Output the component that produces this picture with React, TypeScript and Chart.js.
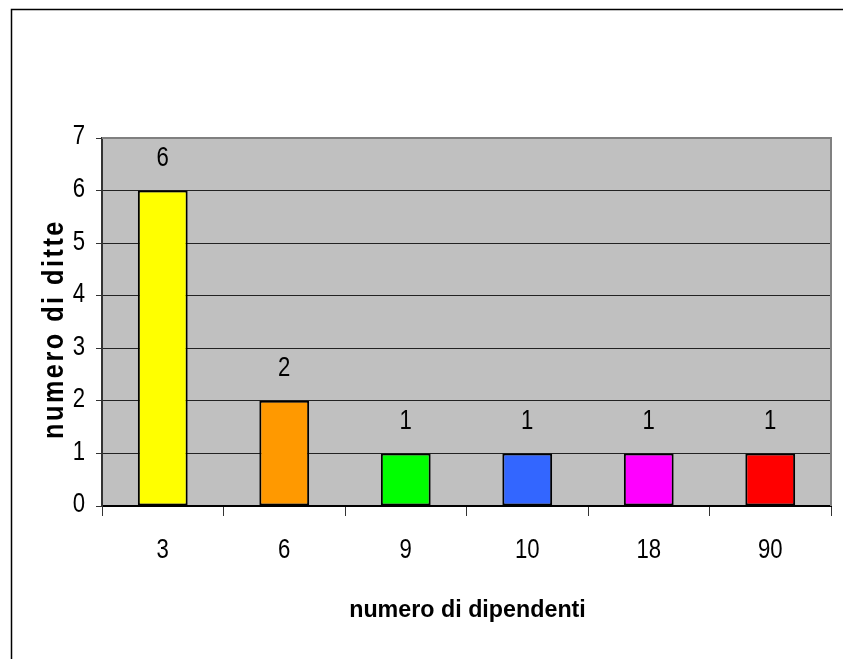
import React, { useEffect, useRef } from "react";
import { Chart, registerables } from "chart.js";

Chart.register(...registerables);

const categories = ["3", "6", "9", "10", "18", "90"];
const values = [6, 2, 1, 1, 1, 1];
const barColors = ["#FFFF00", "#FF9900", "#00FF00", "#3366FF", "#FF00FF", "#FF0000"];
const yTicks = [0, 1, 2, 3, 4, 5, 6, 7];
const xTitle = "numero di dipendenti";
const yTitle = "numero di ditte";

const W = 843;
const H = 659;
const SANS = '"Liberation Sans", Arial, sans-serif';
const NARROW_SCALE = 0.82;

function narrowText(ctx: CanvasRenderingContext2D, text: string, x: number, y: number, align: CanvasTextAlign, sx: number) {
  ctx.save();
  ctx.translate(x, y);
  ctx.scale(sx, 1);
  ctx.textAlign = align;
  ctx.fillText(text, 0, 0);
  ctx.restore();
}

export default function App() {
  const ref = useRef<HTMLCanvasElement | null>(null);

  useEffect(() => {
    const canvas = ref.current;
    if (!canvas) return;

    const decor = {
      id: "decor",
      beforeDraw(chart: any) {
        const { ctx, chartArea: a } = chart;
        ctx.save();
        ctx.fillStyle = "#FFFFFF";
        ctx.fillRect(0, 0, W, H);
        ctx.fillStyle = "#C0C0C0";
        ctx.fillRect(a.left, a.top, a.right - a.left, a.bottom - a.top);
        ctx.restore();
      },
      beforeDatasetsDraw(chart: any) {
        const { ctx, chartArea: a } = chart;
        ctx.save();
        ctx.strokeStyle = "#808080";
        ctx.lineWidth = 2;
        ctx.beginPath();
        ctx.moveTo(a.left, a.top);
        ctx.lineTo(a.right, a.top);
        ctx.lineTo(a.right, a.bottom);
        ctx.stroke();
        ctx.restore();
      },
      afterDatasetsDraw(chart: any) {
        const { ctx } = chart;
        const meta = chart.getDatasetMeta(0);
        ctx.save();
        ctx.fillStyle = "#000";
        ctx.font = `27px ${SANS}`;
        ctx.textBaseline = "middle";
        meta.data.forEach((bar: any, i: number) => {
          narrowText(ctx, String(values[i]), bar.x, bar.y - 32, "center", NARROW_SCALE);
        });
        ctx.restore();
      },
      afterDraw(chart: any) {
        const { ctx, chartArea: a } = chart;
        const xs = chart.scales.x;
        const ys = chart.scales.y;
        ctx.save();
        // outer frame
        ctx.strokeStyle = "#000";
        ctx.lineWidth = 1.5;
        ctx.beginPath();
        ctx.moveTo(11.5, H);
        ctx.lineTo(11.5, 9.5);
        ctx.lineTo(W, 9.5);
        ctx.stroke();

        // tick labels
        ctx.fillStyle = "#000";
        ctx.font = `27px ${SANS}`;
        ctx.textBaseline = "middle";
        yTicks.forEach((v) => {
          narrowText(ctx, String(v), 85, ys.getPixelForValue(v) - 1, "right", NARROW_SCALE);
        });
        categories.forEach((c, i) => {
          narrowText(ctx, c, xs.getPixelForValue(i), 551, "center", NARROW_SCALE);
        });

        // x title
        ctx.font = `bold 24px ${SANS}`;
        ctx.textBaseline = "alphabetic";
        narrowText(ctx, xTitle, (a.left + a.right) / 2 + 1, 617, "center", 0.97);

        // y title
        ctx.translate(63, 329);
        ctx.rotate(-Math.PI / 2);
        ctx.font = `bold 30px ${SANS}`;
        (ctx as any).letterSpacing = "3px";
        narrowText(ctx, yTitle, 0, 0, "center", 0.84);
        ctx.restore();
      },
    };

    const chart = new Chart(canvas, {
      type: "bar",
      data: {
        labels: categories,
        datasets: [
          {
            data: values,
            backgroundColor: barColors,
            borderColor: "#000",
            borderWidth: 2,
            borderSkipped: false,
            barPercentage: 0.41,
            categoryPercentage: 1,
          },
        ],
      },
      options: {
        responsive: false,
        animation: false,
        devicePixelRatio: 1,
        layout: { padding: { left: 0, top: 138, right: 12, bottom: 0 } },
        plugins: { legend: { display: false }, tooltip: { enabled: false }, title: { display: false } },
        scales: {
          x: {
            afterFit(scale: any) {
              scale.height = H - 506;
            },
            grid: {
              drawOnChartArea: false,
              offset: true,
              drawTicks: true,
              tickLength: 10,
              tickColor: "#333",
              tickWidth: 1,
            },
            border: { display: true, color: "#000", width: 2 },
            ticks: {
              color: "rgba(0,0,0,0)",
              font: { family: SANS, size: 26 },
              padding: 14,
              maxRotation: 0,
              autoSkip: false,
            },
          },
          y: {
            min: 0,
            max: 7,
            afterFit(scale: any) {
              scale.width = 102;
            },
            afterBuildTicks(scale: any) {
              scale.ticks = yTicks.map((v) => ({ value: v }));
            },
            grid: {
              color: (c: any) => (c.tick && c.tick.value === 7 ? "rgba(0,0,0,0)" : "#222"),
              lineWidth: 1,
              tickLength: 6,
              tickColor: "#333",
              drawTicks: true,
            },
            border: { display: true, color: "#333", width: 2 },
            ticks: {
              color: "rgba(0,0,0,0)",
              font: { family: SANS, size: 26 },
              padding: 12,
              stepSize: 1,
            },
          },
        },
      },
      plugins: [decor],
    } as any);

    return () => chart.destroy();
  }, []);

  return (
    <div style={{ position: "fixed", left: 0, top: 0, width: W, height: H, background: "#fff" }}>
      <canvas ref={ref} width={W} height={H} style={{ display: "block", width: W, height: H }} />
    </div>
  );
}
